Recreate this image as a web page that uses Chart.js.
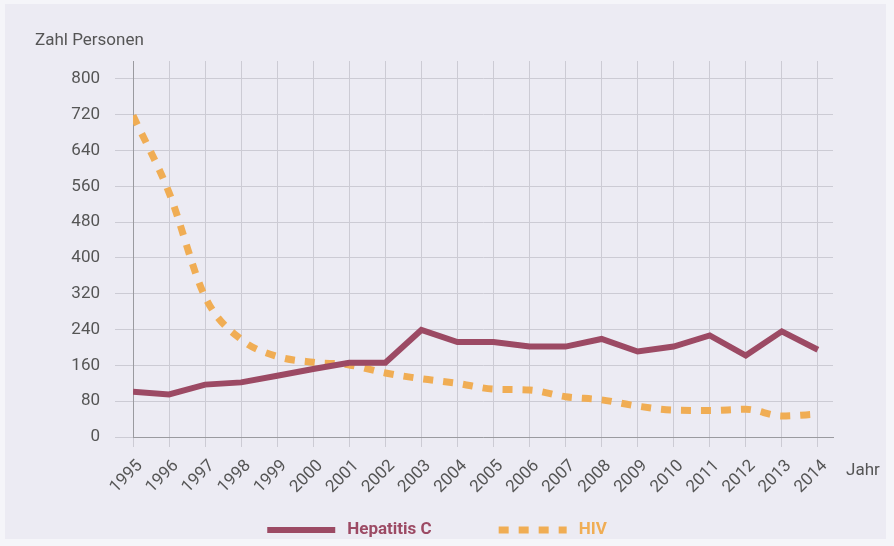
<!DOCTYPE html>
<html>
<head>
<meta charset="utf-8">
<script src="https://cdn.jsdelivr.net/npm/chart.js@4"></script>
<style>
  html, body { margin: 0; padding: 0; background: #f5f5f9; }
  #wrap { width: 894px; height: 546px; position: relative; }
</style>
</head>
<body>
<div id="wrap"><canvas id="chart"></canvas></div>
<script>
const years = [1995, 1996, 1997, 1998, 1999, 2000, 2001, 2002, 2003, 2004,
               2005, 2006, 2007, 2008, 2009, 2010, 2011, 2012, 2013, 2014];
const hepC = [101, 95, 117, 122, 137, 152, 166, 166, 239, 212,
              212, 202, 202, 219, 191, 202, 227, 182, 236, 195];
const hiv = [718, 546, 313, 218, 180, 167, 161, 143, 130, 120,
             107, 105, 90, 83, 69, 60, 59, 62, 47, 51];
const yTicks = [0, 80, 160, 240, 320, 400, 480, 560, 640, 720, 800];

const hepColor = '#9c4a64';
const hivColor = '#f0ad54';
const textColor = '#555';

// background panel, axis captions and the legend row at the bottom
const decor = {
    id: 'decor',
    beforeDraw(chart) {
        const ctx = chart.ctx;
        ctx.save();
        ctx.fillStyle = '#ecebf3';
        ctx.fillRect(5, 4, chart.width - 13, chart.height - 11);
        ctx.restore();
    },
    afterDraw(chart) {
        const ctx = chart.ctx;
        const a = chart.chartArea;
        ctx.save();
        ctx.font = '17px Roboto';
        ctx.fillStyle = textColor;
        ctx.textBaseline = 'middle';
        ctx.textAlign = 'left';
        ctx.fillText('Zahl Personen', a.left - 98, a.top - 20);
        ctx.fillText('Jahr', a.right + 13, a.bottom + 34);

        // legend
        const sample = 68, gapText = 12, gapItem = 67, y = 530;
        ctx.font = 'bold 17px Roboto';
        const items = chart.data.datasets.map(ds => ({
            ds: ds, w: sample + gapText + ctx.measureText(ds.label).width
        }));
        const total = items.reduce((s, it) => s + it.w, 0) + gapItem * (items.length - 1);
        let x = chart.width / 2 - 10 - total / 2;
        items.forEach(it => {
            const ds = it.ds;
            ctx.beginPath();
            ctx.setLineDash(ds.borderDash || []);
            ctx.lineCap = 'butt';
            ctx.lineWidth = ds.borderWidth;
            ctx.strokeStyle = ds.borderColor;
            ctx.moveTo(x, y);
            ctx.lineTo(x + sample, y);
            ctx.stroke();
            ctx.setLineDash([]);
            ctx.fillStyle = ds.borderColor;
            ctx.fillText(ds.label, x + sample + gapText, y);
            x += it.w + gapItem;
        });
        ctx.restore();
    }
};

const ctx = document.getElementById('chart').getContext('2d');
const chart = new Chart(ctx, {
    type: 'line',
    data: {
        datasets: [{
            label: 'Hepatitis C',
            data: years.map((y, i) => ({ x: y, y: hepC[i] })),
            borderColor: hepColor,
            backgroundColor: hepColor,
            borderWidth: 6,
            pointRadius: 0,
            tension: 0,
            fill: false
        }, {
            label: 'HIV',
            data: years.map((y, i) => ({ x: y, y: hiv[i] })),
            borderColor: hivColor,
            backgroundColor: hivColor,
            borderWidth: 7,
            borderDash: [10, 10],
            borderCapStyle: 'butt',
            pointRadius: 0,
            cubicInterpolationMode: 'monotone',
            fill: false
        }]
    },
    options: {
        responsive: true,
        maintainAspectRatio: false,
        animation: false,
        layout: {
            padding: { left: 42, right: 61, top: 61, bottom: 43 }
        },
        scales: {
            x: {
                type: 'linear',
                min: 1995,
                max: 2014.42,
                afterBuildTicks: s => { s.ticks = years.map(v => ({ value: v })); },
                afterFit: s => { s.height = 66; },
                ticks: {
                    autoSkip: false,
                    maxRotation: 45,
                    minRotation: 45,
                    padding: 9,
                    labelOffset: 7,
                    color: textColor,
                    font: { family: 'Roboto', size: 17 },
                    callback: v => String(v)
                },
                grid: { color: '#cccbd4', tickLength: 10, lineWidth: 1 },
                border: { color: '#9a9a9f', width: 1 }
            },
            y: {
                min: 0,
                max: 840,
                afterBuildTicks: s => { s.ticks = yTicks.map(v => ({ value: v })); },
                afterFit: s => { s.width = 91; },
                ticks: {
                    padding: 15,
                    color: textColor,
                    font: { family: 'Roboto', size: 17 }
                },
                grid: { color: '#cccbd4', tickLength: 18, lineWidth: 1 },
                border: { color: '#9a9a9f', width: 1 }
            }
        },
        plugins: {
            legend: { display: false },
            tooltip: { enabled: false }
        }
    },
    plugins: [decor]
});
</script>
</body>
</html>
